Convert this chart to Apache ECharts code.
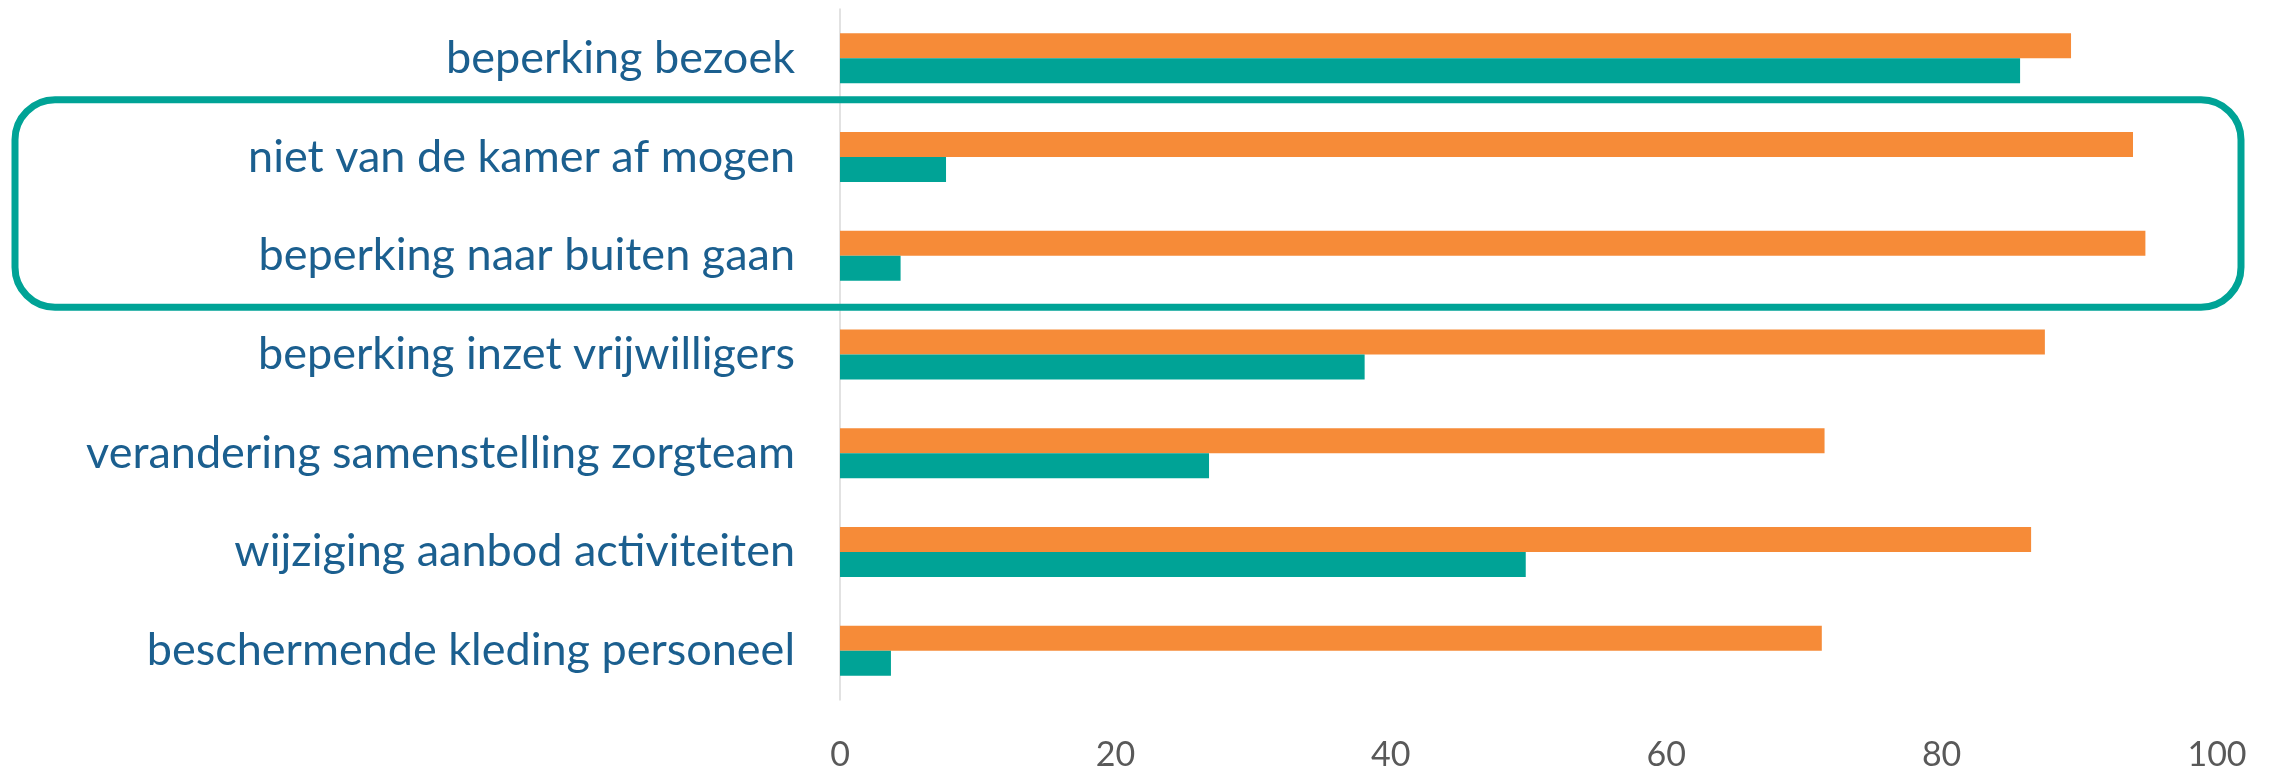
<!DOCTYPE html>
<html>
<head>
<meta charset="utf-8">
<script src="https://cdn.jsdelivr.net/npm/echarts@6/dist/echarts.min.js"></script>
<style>
  html, body { margin: 0; padding: 0; background: #fff; }
  #chart { width: 2287px; height: 772px; }
</style>
</head>
<body>
<div id="chart"></div>
<script>
const categories = [
  "beperking bezoek",
  "niet van de kamer af mogen",
  "beperking naar buiten gaan",
  "beperking inzet vrijwilligers",
  "verandering samenstelling zorgteam",
  "wijziging aanbod activiteiten",
  "beschermende kleding personeel"
];
const orangeValues = [89.4, 93.9, 94.8, 87.5, 71.5, 86.5, 71.3];
const tealValues = [85.7, 7.7, 4.4, 38.1, 26.8, 49.8, 3.7];
const xTicks = [0, 20, 40, 60, 80, 100];

let chart = echarts.init(document.getElementById("chart"));

let option = {
  animation: false,
  grid: {
    left: 840,
    right: 70,
    top: 9,
    bottom: 69
  },
  xAxis: {
    type: "value",
    min: xTicks[0],
    max: xTicks[xTicks.length - 1],
    interval: 20,
    axisLine: { show: false },
    axisTick: { show: false },
    splitLine: { show: false },
    axisLabel: {
      margin: 38,
      color: "#595959",
      fontSize: 34,
      fontFamily: "Lato"
    }
  },
  yAxis: {
    type: "category",
    inverse: true,
    data: categories,
    axisTick: { show: false },
    axisLine: {
      show: true,
      lineStyle: { color: "#d9d9d9", width: 1.5 }
    },
    axisLabel: {
      margin: 45,
      color: "#1b5f8f",
      fontSize: 45,
      fontFamily: "Lato"
    }
  },
  series: [{
    name: "oranje",
    type: "bar",
    data: orangeValues,
    barWidth: 25,
    barGap: "0%",
    itemStyle: { color: "#f68b38" }
  }, {
    name: "groen",
    type: "bar",
    data: tealValues,
    barWidth: 25,
    barGap: "0%",
    itemStyle: { color: "#00a396" }
  }]
};

chart.setOption(option, true);

// rounded box around the 2nd and 3rd category
let yTop = (chart.convertToPixel({ yAxisIndex: 0 }, 0) + chart.convertToPixel({ yAxisIndex: 0 }, 1)) / 2;
let yBot = (chart.convertToPixel({ yAxisIndex: 0 }, 2) + chart.convertToPixel({ yAxisIndex: 0 }, 3)) / 2;
chart.setOption({
  graphic: [{
    type: "rect",
    shape: { x: 15, y: yTop - 8, width: 2226, height: yBot - yTop + 10, r: 40 },
    style: { fill: "none", stroke: "#00a396", lineWidth: 7 },
    z: 10
  }]
});
</script>
</body>
</html>
